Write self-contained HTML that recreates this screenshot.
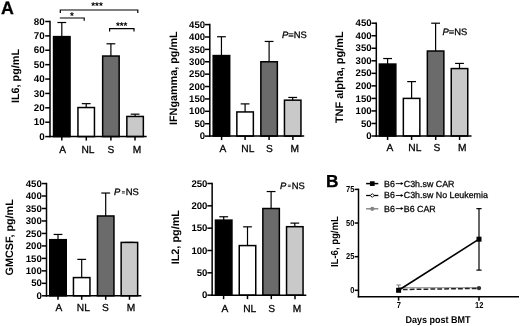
<!DOCTYPE html>
<html><head><meta charset="utf-8"><title>Figure</title>
<style>html,body{margin:0;padding:0;background:#fff;}svg{display:block;will-change:transform;font-family:'Liberation Sans', sans-serif;fill:#000;text-rendering:geometricPrecision;}</style>
</head><body>
<svg width="520" height="326" viewBox="0 0 520 326">
<rect x="0" y="0" width="520" height="326" fill="#fff"/>
<text x="1.0" y="13.8" font-size="17.8" font-weight="bold" text-anchor="start" stroke="#000" stroke-width="0.3">A</text>
<text x="325.9" y="187.1" font-size="17.3" font-weight="bold" text-anchor="start" stroke="#000" stroke-width="0.3">B</text>
<line x1="61.8" y1="36.61" x2="61.8" y2="22.51" stroke="#000" stroke-width="1.2" />
<line x1="57.4" y1="22.51" x2="66.2" y2="22.51" stroke="#000" stroke-width="1.2" />
<rect x="53.55" y="36.61" width="16.5" height="99.99" fill="#000" stroke="#000" stroke-width="1.5"/>
<line x1="86.2" y1="107.54" x2="86.2" y2="103.65" stroke="#000" stroke-width="1.2" />
<line x1="81.8" y1="103.65" x2="90.60000000000001" y2="103.65" stroke="#000" stroke-width="1.2" />
<rect x="77.95" y="107.54" width="16.5" height="29.06" fill="#fff" stroke="#000" stroke-width="1.5"/>
<line x1="110.9" y1="56.03" x2="110.9" y2="43.8" stroke="#000" stroke-width="1.2" />
<line x1="106.5" y1="43.8" x2="115.30000000000001" y2="43.8" stroke="#000" stroke-width="1.2" />
<rect x="102.65" y="56.03" width="16.5" height="80.57" fill="#6b6b6b" stroke="#000" stroke-width="1.5"/>
<line x1="135.1" y1="116.46" x2="135.1" y2="114.16" stroke="#000" stroke-width="1.2" />
<line x1="130.7" y1="114.16" x2="139.5" y2="114.16" stroke="#000" stroke-width="1.2" />
<rect x="126.85" y="116.46" width="16.5" height="20.14" fill="#c9c9c9" stroke="#000" stroke-width="1.5"/>
<line x1="50" y1="20.75" x2="50" y2="137.35" stroke="#000" stroke-width="1.5" />
<line x1="49.25" y1="136.6" x2="146.7" y2="136.6" stroke="#000" stroke-width="1.5" />
<line x1="45.2" y1="136.6" x2="50" y2="136.6" stroke="#000" stroke-width="1.5" />
<text transform="translate(44.7,139.75) scale(1.0,1)" font-size="9.8" font-weight="bold" text-anchor="end">0</text>
<line x1="45.2" y1="122.21" x2="50" y2="122.21" stroke="#000" stroke-width="1.5" />
<text transform="translate(44.7,125.36) scale(1.0,1)" font-size="9.8" font-weight="bold" text-anchor="end">10</text>
<line x1="45.2" y1="107.82" x2="50" y2="107.82" stroke="#000" stroke-width="1.5" />
<text transform="translate(44.7,110.97) scale(1.0,1)" font-size="9.8" font-weight="bold" text-anchor="end">20</text>
<line x1="45.2" y1="93.44" x2="50" y2="93.44" stroke="#000" stroke-width="1.5" />
<text transform="translate(44.7,96.59) scale(1.0,1)" font-size="9.8" font-weight="bold" text-anchor="end">30</text>
<line x1="45.2" y1="79.05" x2="50" y2="79.05" stroke="#000" stroke-width="1.5" />
<text transform="translate(44.7,82.2) scale(1.0,1)" font-size="9.8" font-weight="bold" text-anchor="end">40</text>
<line x1="45.2" y1="64.66" x2="50" y2="64.66" stroke="#000" stroke-width="1.5" />
<text transform="translate(44.7,67.81) scale(1.0,1)" font-size="9.8" font-weight="bold" text-anchor="end">50</text>
<line x1="45.2" y1="50.27" x2="50" y2="50.27" stroke="#000" stroke-width="1.5" />
<text transform="translate(44.7,53.42) scale(1.0,1)" font-size="9.8" font-weight="bold" text-anchor="end">60</text>
<line x1="45.2" y1="35.89" x2="50" y2="35.89" stroke="#000" stroke-width="1.5" />
<text transform="translate(44.7,39.04) scale(1.0,1)" font-size="9.8" font-weight="bold" text-anchor="end">70</text>
<line x1="45.2" y1="21.5" x2="50" y2="21.5" stroke="#000" stroke-width="1.5" />
<text transform="translate(44.7,24.65) scale(1.0,1)" font-size="9.8" font-weight="bold" text-anchor="end">80</text>
<line x1="61.8" y1="136.6" x2="61.8" y2="140.6" stroke="#000" stroke-width="1.5" />
<text x="62.6" y="153.1" font-size="10.2" font-weight="normal" text-anchor="middle" stroke="#000" stroke-width="0.28">A</text>
<line x1="86.3" y1="136.6" x2="86.3" y2="140.6" stroke="#000" stroke-width="1.5" />
<text x="88.0" y="153.1" font-size="10.2" font-weight="normal" text-anchor="middle" stroke="#000" stroke-width="0.28">NL</text>
<line x1="110.9" y1="136.6" x2="110.9" y2="140.6" stroke="#000" stroke-width="1.5" />
<text x="111.0" y="153.1" font-size="10.2" font-weight="normal" text-anchor="middle" stroke="#000" stroke-width="0.28">S</text>
<line x1="135.0" y1="136.6" x2="135.0" y2="140.6" stroke="#000" stroke-width="1.5" />
<text x="136.9" y="153.1" font-size="10.2" font-weight="normal" text-anchor="middle" stroke="#000" stroke-width="0.28">M</text>
<text transform="translate(19.3,76) rotate(-90)" font-size="10.8" font-weight="bold" text-anchor="middle">IL6, pg/mL</text>
<path d="M60.3,13 V10 H137.8 V13" fill="none" stroke="#000" stroke-width="1.2"/>
<path d="M59.8,18 H84.2 V20.7" fill="none" stroke="#000" stroke-width="1.2"/>
<path d="M109.6,31.400000000000002 V28.6 H134 V31.400000000000002" fill="none" stroke="#000" stroke-width="1.2"/>
<text x="97.0" y="8.9" font-size="9.8" font-weight="bold" text-anchor="middle" >***</text>
<text x="71.8" y="18.7" font-size="9.8" font-weight="bold" text-anchor="middle" >*</text>
<text x="121.7" y="28.8" font-size="9.8" font-weight="bold" text-anchor="middle" >***</text>
<line x1="221.45" y1="55.57" x2="221.45" y2="36.74" stroke="#000" stroke-width="1.2" />
<line x1="217.04999999999998" y1="36.74" x2="225.85" y2="36.74" stroke="#000" stroke-width="1.2" />
<rect x="213.2" y="55.57" width="16.5" height="80.53" fill="#000" stroke="#000" stroke-width="1.5"/>
<line x1="245.1" y1="111.94" x2="245.1" y2="103.89" stroke="#000" stroke-width="1.2" />
<line x1="240.7" y1="103.89" x2="249.5" y2="103.89" stroke="#000" stroke-width="1.2" />
<rect x="236.85" y="111.94" width="16.5" height="24.16" fill="#fff" stroke="#000" stroke-width="1.5"/>
<line x1="269.1" y1="61.77" x2="269.1" y2="41.45" stroke="#000" stroke-width="1.2" />
<line x1="264.70000000000005" y1="41.45" x2="273.5" y2="41.45" stroke="#000" stroke-width="1.2" />
<rect x="260.85" y="61.77" width="16.5" height="74.33" fill="#6b6b6b" stroke="#000" stroke-width="1.5"/>
<line x1="292.7" y1="100.17" x2="292.7" y2="97.45" stroke="#000" stroke-width="1.2" />
<line x1="288.3" y1="97.45" x2="297.09999999999997" y2="97.45" stroke="#000" stroke-width="1.2" />
<rect x="284.45" y="100.17" width="16.5" height="35.93" fill="#c9c9c9" stroke="#000" stroke-width="1.5"/>
<line x1="209.8" y1="23.85" x2="209.8" y2="136.85" stroke="#000" stroke-width="1.5" />
<line x1="209.05" y1="136.1" x2="304.2" y2="136.1" stroke="#000" stroke-width="1.5" />
<line x1="205.0" y1="136.1" x2="209.8" y2="136.1" stroke="#000" stroke-width="1.5" />
<text transform="translate(205.1,139.25) scale(1.0,1)" font-size="9.6" font-weight="bold" text-anchor="end">0</text>
<line x1="205.0" y1="123.71" x2="209.8" y2="123.71" stroke="#000" stroke-width="1.5" />
<text transform="translate(205.1,126.86) scale(1.0,1)" font-size="9.6" font-weight="bold" text-anchor="end">50</text>
<line x1="205.0" y1="111.32" x2="209.8" y2="111.32" stroke="#000" stroke-width="1.5" />
<text transform="translate(205.1,114.47) scale(1.0,1)" font-size="9.6" font-weight="bold" text-anchor="end">100</text>
<line x1="205.0" y1="98.93" x2="209.8" y2="98.93" stroke="#000" stroke-width="1.5" />
<text transform="translate(205.1,102.08) scale(1.0,1)" font-size="9.6" font-weight="bold" text-anchor="end">150</text>
<line x1="205.0" y1="86.54" x2="209.8" y2="86.54" stroke="#000" stroke-width="1.5" />
<text transform="translate(205.1,89.69) scale(1.0,1)" font-size="9.6" font-weight="bold" text-anchor="end">200</text>
<line x1="205.0" y1="74.16" x2="209.8" y2="74.16" stroke="#000" stroke-width="1.5" />
<text transform="translate(205.1,77.31) scale(1.0,1)" font-size="9.6" font-weight="bold" text-anchor="end">250</text>
<line x1="205.0" y1="61.77" x2="209.8" y2="61.77" stroke="#000" stroke-width="1.5" />
<text transform="translate(205.1,64.92) scale(1.0,1)" font-size="9.6" font-weight="bold" text-anchor="end">300</text>
<line x1="205.0" y1="49.38" x2="209.8" y2="49.38" stroke="#000" stroke-width="1.5" />
<text transform="translate(205.1,52.53) scale(1.0,1)" font-size="9.6" font-weight="bold" text-anchor="end">350</text>
<line x1="205.0" y1="36.99" x2="209.8" y2="36.99" stroke="#000" stroke-width="1.5" />
<text transform="translate(205.1,40.14) scale(1.0,1)" font-size="9.6" font-weight="bold" text-anchor="end">400</text>
<line x1="205.0" y1="24.6" x2="209.8" y2="24.6" stroke="#000" stroke-width="1.5" />
<text transform="translate(205.1,27.75) scale(1.0,1)" font-size="9.6" font-weight="bold" text-anchor="end">450</text>
<line x1="221.6" y1="136.1" x2="221.6" y2="140.1" stroke="#000" stroke-width="1.5" />
<text x="223.0" y="152.0" font-size="10.2" font-weight="normal" text-anchor="middle" stroke="#000" stroke-width="0.28">A</text>
<line x1="245.1" y1="136.1" x2="245.1" y2="140.1" stroke="#000" stroke-width="1.5" />
<text x="247.8" y="152.0" font-size="10.2" font-weight="normal" text-anchor="middle" stroke="#000" stroke-width="0.28">NL</text>
<line x1="269.1" y1="136.1" x2="269.1" y2="140.1" stroke="#000" stroke-width="1.5" />
<text x="269.4" y="152.0" font-size="10.2" font-weight="normal" text-anchor="middle" stroke="#000" stroke-width="0.28">S</text>
<line x1="292.9" y1="136.1" x2="292.9" y2="140.1" stroke="#000" stroke-width="1.5" />
<text x="294.7" y="152.0" font-size="10.2" font-weight="normal" text-anchor="middle" stroke="#000" stroke-width="0.28">M</text>
<text transform="translate(177.1,78.2) rotate(-90)" font-size="10.8" font-weight="bold" text-anchor="middle">IFNgamma, pg/mL</text>
<text x="282.0" y="38.3" font-size="9.4" font-weight="normal" text-anchor="start" stroke="#000" stroke-width="0.28"><tspan font-style="italic">P</tspan>=NS</text>
<line x1="387.6" y1="64.06" x2="387.6" y2="58.54" stroke="#000" stroke-width="1.2" />
<line x1="383.20000000000005" y1="58.54" x2="392.0" y2="58.54" stroke="#000" stroke-width="1.2" />
<rect x="379.35" y="64.06" width="16.5" height="71.94" fill="#000" stroke="#000" stroke-width="1.5"/>
<line x1="411.6" y1="98.4" x2="411.6" y2="81.61" stroke="#000" stroke-width="1.2" />
<line x1="407.20000000000005" y1="81.61" x2="416.0" y2="81.61" stroke="#000" stroke-width="1.2" />
<rect x="403.35" y="98.4" width="16.5" height="37.6" fill="#fff" stroke="#000" stroke-width="1.5"/>
<line x1="435.6" y1="51.02" x2="435.6" y2="23.2" stroke="#000" stroke-width="1.2" />
<line x1="431.20000000000005" y1="23.2" x2="440.0" y2="23.2" stroke="#000" stroke-width="1.2" />
<rect x="427.35" y="51.02" width="16.5" height="84.98" fill="#6b6b6b" stroke="#000" stroke-width="1.5"/>
<line x1="459.5" y1="68.57" x2="459.5" y2="63.43" stroke="#000" stroke-width="1.2" />
<line x1="455.1" y1="63.43" x2="463.9" y2="63.43" stroke="#000" stroke-width="1.2" />
<rect x="451.25" y="68.57" width="16.5" height="67.43" fill="#c9c9c9" stroke="#000" stroke-width="1.5"/>
<line x1="376.3" y1="22.45" x2="376.3" y2="136.75" stroke="#000" stroke-width="1.5" />
<line x1="375.55" y1="136.0" x2="471.5" y2="136.0" stroke="#000" stroke-width="1.5" />
<line x1="371.5" y1="136.0" x2="376.3" y2="136.0" stroke="#000" stroke-width="1.5" />
<text transform="translate(371.6,139.15) scale(1.0,1)" font-size="9.6" font-weight="bold" text-anchor="end">0</text>
<line x1="371.5" y1="123.47" x2="376.3" y2="123.47" stroke="#000" stroke-width="1.5" />
<text transform="translate(371.6,126.62) scale(1.0,1)" font-size="9.6" font-weight="bold" text-anchor="end">50</text>
<line x1="371.5" y1="110.93" x2="376.3" y2="110.93" stroke="#000" stroke-width="1.5" />
<text transform="translate(371.6,114.08) scale(1.0,1)" font-size="9.6" font-weight="bold" text-anchor="end">100</text>
<line x1="371.5" y1="98.4" x2="376.3" y2="98.4" stroke="#000" stroke-width="1.5" />
<text transform="translate(371.6,101.55) scale(1.0,1)" font-size="9.6" font-weight="bold" text-anchor="end">150</text>
<line x1="371.5" y1="85.87" x2="376.3" y2="85.87" stroke="#000" stroke-width="1.5" />
<text transform="translate(371.6,89.02) scale(1.0,1)" font-size="9.6" font-weight="bold" text-anchor="end">200</text>
<line x1="371.5" y1="73.33" x2="376.3" y2="73.33" stroke="#000" stroke-width="1.5" />
<text transform="translate(371.6,76.48) scale(1.0,1)" font-size="9.6" font-weight="bold" text-anchor="end">250</text>
<line x1="371.5" y1="60.8" x2="376.3" y2="60.8" stroke="#000" stroke-width="1.5" />
<text transform="translate(371.6,63.95) scale(1.0,1)" font-size="9.6" font-weight="bold" text-anchor="end">300</text>
<line x1="371.5" y1="48.27" x2="376.3" y2="48.27" stroke="#000" stroke-width="1.5" />
<text transform="translate(371.6,51.42) scale(1.0,1)" font-size="9.6" font-weight="bold" text-anchor="end">350</text>
<line x1="371.5" y1="35.73" x2="376.3" y2="35.73" stroke="#000" stroke-width="1.5" />
<text transform="translate(371.6,38.88) scale(1.0,1)" font-size="9.6" font-weight="bold" text-anchor="end">400</text>
<line x1="371.5" y1="23.2" x2="376.3" y2="23.2" stroke="#000" stroke-width="1.5" />
<text transform="translate(371.6,26.35) scale(1.0,1)" font-size="9.6" font-weight="bold" text-anchor="end">450</text>
<line x1="387.6" y1="136.0" x2="387.6" y2="140.0" stroke="#000" stroke-width="1.5" />
<text x="389.9" y="150.5" font-size="10.2" font-weight="normal" text-anchor="middle" stroke="#000" stroke-width="0.28">A</text>
<line x1="411.6" y1="136.0" x2="411.6" y2="140.0" stroke="#000" stroke-width="1.5" />
<text x="414.8" y="150.5" font-size="10.2" font-weight="normal" text-anchor="middle" stroke="#000" stroke-width="0.28">NL</text>
<line x1="435.7" y1="136.0" x2="435.7" y2="140.0" stroke="#000" stroke-width="1.5" />
<text x="436.8" y="150.5" font-size="10.2" font-weight="normal" text-anchor="middle" stroke="#000" stroke-width="0.28">S</text>
<line x1="459.6" y1="136.0" x2="459.6" y2="140.0" stroke="#000" stroke-width="1.5" />
<text x="462.3" y="150.5" font-size="10.2" font-weight="normal" text-anchor="middle" stroke="#000" stroke-width="0.28">M</text>
<text transform="translate(342.9,77.2) rotate(-90)" font-size="10.95" font-weight="bold" text-anchor="middle">TNF alpha, pg/mL</text>
<text x="442.55" y="34.9" font-size="9.4" font-weight="normal" text-anchor="start" stroke="#000" stroke-width="0.28"><tspan font-style="italic">P</tspan>=NS</text>
<line x1="58" y1="239.68" x2="58" y2="234.44" stroke="#000" stroke-width="1.2" />
<line x1="53.6" y1="234.44" x2="62.4" y2="234.44" stroke="#000" stroke-width="1.2" />
<rect x="49.75" y="239.68" width="16.5" height="56.12" fill="#000" stroke="#000" stroke-width="1.5"/>
<line x1="81.7" y1="277.59" x2="81.7" y2="259.38" stroke="#000" stroke-width="1.2" />
<line x1="77.3" y1="259.38" x2="86.10000000000001" y2="259.38" stroke="#000" stroke-width="1.2" />
<rect x="73.45" y="277.59" width="16.5" height="18.21" fill="#fff" stroke="#000" stroke-width="1.5"/>
<line x1="105.7" y1="215.98" x2="105.7" y2="193.03" stroke="#000" stroke-width="1.2" />
<line x1="101.3" y1="193.03" x2="110.10000000000001" y2="193.03" stroke="#000" stroke-width="1.2" />
<rect x="97.45" y="215.98" width="16.5" height="79.82" fill="#6b6b6b" stroke="#000" stroke-width="1.5"/>
<line x1="129.4" y1="242.42" x2="129.4" y2="242.42" stroke="#000" stroke-width="1.2" />
<line x1="125.0" y1="242.42" x2="133.8" y2="242.42" stroke="#000" stroke-width="1.2" />
<rect x="121.15" y="242.42" width="16.5" height="53.38" fill="#c9c9c9" stroke="#000" stroke-width="1.5"/>
<line x1="46.5" y1="182.8" x2="46.5" y2="296.55" stroke="#000" stroke-width="1.5" />
<line x1="45.75" y1="295.8" x2="141.3" y2="295.8" stroke="#000" stroke-width="1.5" />
<line x1="41.7" y1="295.8" x2="46.5" y2="295.8" stroke="#000" stroke-width="1.5" />
<text transform="translate(41.8,298.95) scale(1.0,1)" font-size="9.6" font-weight="bold" text-anchor="end">0</text>
<line x1="41.7" y1="283.33" x2="46.5" y2="283.33" stroke="#000" stroke-width="1.5" />
<text transform="translate(41.8,286.48) scale(1.0,1)" font-size="9.6" font-weight="bold" text-anchor="end">50</text>
<line x1="41.7" y1="270.86" x2="46.5" y2="270.86" stroke="#000" stroke-width="1.5" />
<text transform="translate(41.8,274.01) scale(1.0,1)" font-size="9.6" font-weight="bold" text-anchor="end">100</text>
<line x1="41.7" y1="258.38" x2="46.5" y2="258.38" stroke="#000" stroke-width="1.5" />
<text transform="translate(41.8,261.53) scale(1.0,1)" font-size="9.6" font-weight="bold" text-anchor="end">150</text>
<line x1="41.7" y1="245.91" x2="46.5" y2="245.91" stroke="#000" stroke-width="1.5" />
<text transform="translate(41.8,249.06) scale(1.0,1)" font-size="9.6" font-weight="bold" text-anchor="end">200</text>
<line x1="41.7" y1="233.44" x2="46.5" y2="233.44" stroke="#000" stroke-width="1.5" />
<text transform="translate(41.8,236.59) scale(1.0,1)" font-size="9.6" font-weight="bold" text-anchor="end">250</text>
<line x1="41.7" y1="220.97" x2="46.5" y2="220.97" stroke="#000" stroke-width="1.5" />
<text transform="translate(41.8,224.12) scale(1.0,1)" font-size="9.6" font-weight="bold" text-anchor="end">300</text>
<line x1="41.7" y1="208.49" x2="46.5" y2="208.49" stroke="#000" stroke-width="1.5" />
<text transform="translate(41.8,211.64) scale(1.0,1)" font-size="9.6" font-weight="bold" text-anchor="end">350</text>
<line x1="41.7" y1="196.02" x2="46.5" y2="196.02" stroke="#000" stroke-width="1.5" />
<text transform="translate(41.8,199.17) scale(1.0,1)" font-size="9.6" font-weight="bold" text-anchor="end">400</text>
<line x1="41.7" y1="183.55" x2="46.5" y2="183.55" stroke="#000" stroke-width="1.5" />
<text transform="translate(41.8,186.7) scale(1.0,1)" font-size="9.6" font-weight="bold" text-anchor="end">450</text>
<line x1="58" y1="295.8" x2="58" y2="299.8" stroke="#000" stroke-width="1.5" />
<text x="59.0" y="310.7" font-size="10.2" font-weight="normal" text-anchor="middle" stroke="#000" stroke-width="0.28">A</text>
<line x1="81.7" y1="295.8" x2="81.7" y2="299.8" stroke="#000" stroke-width="1.5" />
<text x="83.3" y="310.7" font-size="10.2" font-weight="normal" text-anchor="middle" stroke="#000" stroke-width="0.28">NL</text>
<line x1="105.7" y1="295.8" x2="105.7" y2="299.8" stroke="#000" stroke-width="1.5" />
<text x="105.4" y="310.7" font-size="10.2" font-weight="normal" text-anchor="middle" stroke="#000" stroke-width="0.28">S</text>
<line x1="129.5" y1="295.8" x2="129.5" y2="299.8" stroke="#000" stroke-width="1.5" />
<text x="131" y="310.7" font-size="10.2" font-weight="normal" text-anchor="middle" stroke="#000" stroke-width="0.28">M</text>
<text transform="translate(13.2,237.3) rotate(-90)" font-size="10.8" font-weight="bold" text-anchor="middle">GMCSF, pg/mL</text>
<text x="114.0" y="195.1" font-size="9.4" font-style="italic" stroke="#000" stroke-width="0.28">P</text>
<text x="125.76" y="195.1" font-size="9.4" stroke="#000" stroke-width="0.28">NS</text>
<line x1="121.9" y1="191.65" x2="124.8" y2="191.65" stroke="#222" stroke-width="0.85" />
<line x1="121.9" y1="193.05" x2="124.8" y2="193.05" stroke="#222" stroke-width="0.85" />
<line x1="223.7" y1="220.12" x2="223.7" y2="216.77" stroke="#000" stroke-width="1.2" />
<line x1="219.29999999999998" y1="216.77" x2="228.1" y2="216.77" stroke="#000" stroke-width="1.2" />
<rect x="215.45" y="220.12" width="16.5" height="75.03" fill="#000" stroke="#000" stroke-width="1.5"/>
<line x1="247.5" y1="245.58" x2="247.5" y2="226.82" stroke="#000" stroke-width="1.2" />
<line x1="243.1" y1="226.82" x2="251.9" y2="226.82" stroke="#000" stroke-width="1.2" />
<rect x="239.25" y="245.58" width="16.5" height="49.57" fill="#fff" stroke="#000" stroke-width="1.5"/>
<line x1="271.1" y1="208.51" x2="271.1" y2="191.54" stroke="#000" stroke-width="1.2" />
<line x1="266.70000000000005" y1="191.54" x2="275.5" y2="191.54" stroke="#000" stroke-width="1.2" />
<rect x="262.85" y="208.51" width="16.5" height="86.64" fill="#6b6b6b" stroke="#000" stroke-width="1.5"/>
<line x1="294.8" y1="226.69" x2="294.8" y2="223.11" stroke="#000" stroke-width="1.2" />
<line x1="290.40000000000003" y1="223.11" x2="299.2" y2="223.11" stroke="#000" stroke-width="1.2" />
<rect x="286.55" y="226.69" width="16.5" height="68.46" fill="#c9c9c9" stroke="#000" stroke-width="1.5"/>
<line x1="212.15" y1="182.75" x2="212.15" y2="295.9" stroke="#000" stroke-width="1.5" />
<line x1="211.4" y1="295.15" x2="306.3" y2="295.15" stroke="#000" stroke-width="1.5" />
<line x1="207.35" y1="295.15" x2="212.15" y2="295.15" stroke="#000" stroke-width="1.5" />
<text transform="translate(207.45,298.3) scale(1.0,1)" font-size="9.6" font-weight="bold" text-anchor="end">0</text>
<line x1="207.35" y1="272.82" x2="212.15" y2="272.82" stroke="#000" stroke-width="1.5" />
<text transform="translate(207.45,275.97) scale(1.0,1)" font-size="9.6" font-weight="bold" text-anchor="end">50</text>
<line x1="207.35" y1="250.49" x2="212.15" y2="250.49" stroke="#000" stroke-width="1.5" />
<text transform="translate(207.45,253.64) scale(1.0,1)" font-size="9.6" font-weight="bold" text-anchor="end">100</text>
<line x1="207.35" y1="228.16" x2="212.15" y2="228.16" stroke="#000" stroke-width="1.5" />
<text transform="translate(207.45,231.31) scale(1.0,1)" font-size="9.6" font-weight="bold" text-anchor="end">150</text>
<line x1="207.35" y1="205.83" x2="212.15" y2="205.83" stroke="#000" stroke-width="1.5" />
<text transform="translate(207.45,208.98) scale(1.0,1)" font-size="9.6" font-weight="bold" text-anchor="end">200</text>
<line x1="207.35" y1="183.5" x2="212.15" y2="183.5" stroke="#000" stroke-width="1.5" />
<text transform="translate(207.45,186.65) scale(1.0,1)" font-size="9.6" font-weight="bold" text-anchor="end">250</text>
<line x1="223.6" y1="295.15" x2="223.6" y2="299.15" stroke="#000" stroke-width="1.5" />
<text x="224.9" y="311.6" font-size="10.2" font-weight="normal" text-anchor="middle" stroke="#000" stroke-width="0.28">A</text>
<line x1="247.5" y1="295.15" x2="247.5" y2="299.15" stroke="#000" stroke-width="1.5" />
<text x="249.7" y="311.6" font-size="10.2" font-weight="normal" text-anchor="middle" stroke="#000" stroke-width="0.28">NL</text>
<line x1="271.3" y1="295.15" x2="271.3" y2="299.15" stroke="#000" stroke-width="1.5" />
<text x="271.7" y="311.6" font-size="10.2" font-weight="normal" text-anchor="middle" stroke="#000" stroke-width="0.28">S</text>
<line x1="295.0" y1="295.15" x2="295.0" y2="299.15" stroke="#000" stroke-width="1.5" />
<text x="297.1" y="311.6" font-size="10.2" font-weight="normal" text-anchor="middle" stroke="#000" stroke-width="0.28">M</text>
<text transform="translate(179.2,237.2) rotate(-90)" font-size="10.85" font-weight="bold" text-anchor="middle">IL2, pg/mL</text>
<text x="280.0" y="188.6" font-size="9.4" font-style="italic" stroke="#000" stroke-width="0.28">P</text>
<text x="291.76" y="188.6" font-size="9.4" stroke="#000" stroke-width="0.28">NS</text>
<line x1="287.9" y1="185.15" x2="290.8" y2="185.15" stroke="#222" stroke-width="0.85" />
<line x1="287.9" y1="186.55" x2="290.8" y2="186.55" stroke="#222" stroke-width="0.85" />
<line x1="358.5" y1="188.65" x2="358.5" y2="297.4" stroke="#000" stroke-width="1.5" />
<line x1="357.75" y1="296.65" x2="519" y2="296.65" stroke="#000" stroke-width="1.5" />
<line x1="354.7" y1="290.3" x2="358.5" y2="290.3" stroke="#000" stroke-width="1.5" />
<text transform="translate(354.3,293.05) scale(0.87,1)" font-size="8.6" font-weight="bold" text-anchor="end">0</text>
<line x1="354.7" y1="256.67" x2="358.5" y2="256.67" stroke="#000" stroke-width="1.5" />
<text transform="translate(354.3,259.42) scale(0.87,1)" font-size="8.6" font-weight="bold" text-anchor="end">25</text>
<line x1="354.7" y1="223.03" x2="358.5" y2="223.03" stroke="#000" stroke-width="1.5" />
<text transform="translate(354.3,225.78) scale(0.87,1)" font-size="8.6" font-weight="bold" text-anchor="end">50</text>
<line x1="354.7" y1="189.4" x2="358.5" y2="189.4" stroke="#000" stroke-width="1.5" />
<text transform="translate(354.3,192.15) scale(0.87,1)" font-size="8.6" font-weight="bold" text-anchor="end">75</text>
<line x1="398.6" y1="296.65" x2="398.6" y2="300.65" stroke="#000" stroke-width="1.5" />
<text transform="translate(398.8,308.1) scale(0.87,1)" font-size="8.6" font-weight="bold" text-anchor="middle">7</text>
<line x1="479.0" y1="296.65" x2="479.0" y2="300.65" stroke="#000" stroke-width="1.5" />
<text transform="translate(479.2,308.1) scale(0.87,1)" font-size="8.6" font-weight="bold" text-anchor="middle">12</text>
<text transform="translate(438.0,322.5) scale(0.92,1)" font-size="9.8" font-weight="bold" text-anchor="middle">Days post BMT</text>
<text transform="translate(337.55,241.6) rotate(-90) scale(0.936,1)" font-size="10.2" font-weight="bold" text-anchor="middle">IL-6, pg/mL</text>
<line x1="398.6" y1="287.7" x2="479.0" y2="287.7" stroke="#828282" stroke-width="1.1" />
<line x1="398.6" y1="288.28" x2="398.6" y2="285.0" stroke="#828282" stroke-width="1.1" />
<line x1="396.40000000000003" y1="285.0" x2="400.8" y2="285.0" stroke="#828282" stroke-width="1.1" />
<line x1="402.8" y1="289.5" x2="479.0" y2="288.4" stroke="#222" stroke-width="1.5" stroke-dasharray="4.8 2.1"/>
<line x1="479.0" y1="208.91" x2="479.0" y2="270.12" stroke="#000" stroke-width="1.2" />
<line x1="476.4" y1="208.64" x2="481.6" y2="208.64" stroke="#000" stroke-width="1.2" />
<line x1="476.4" y1="270.12" x2="481.6" y2="270.12" stroke="#000" stroke-width="1.2" />
<line x1="398.6" y1="290.3" x2="479.0" y2="239.18" stroke="#000" stroke-width="1.6" />
<rect x="476.5" y="236.68" width="5" height="5" fill="#000"/>
<rect x="396.1" y="287.8" width="5" height="5" fill="#000"/>
<circle cx="479.0" cy="288.1" r="2.2" fill="#333"/>
<line x1="366.1" y1="183.6" x2="378.3" y2="183.6" stroke="#000" stroke-width="1.5" />
<rect x="369.95" y="181.25" width="4.7" height="4.7" fill="#000"/>
<line x1="366.1" y1="195.5" x2="378.3" y2="195.5" stroke="#000" stroke-width="1.3" />
<path d="M370.40000000000003,195.5 L372.3,193.6 L374.2,195.5 L372.3,197.4 Z" fill="#fff" stroke="#000" stroke-width="0.9"/>
<line x1="366.1" y1="208.8" x2="378.3" y2="208.8" stroke="#828282" stroke-width="1.4" />
<circle cx="372.3" cy="208.8" r="2.1" fill="#828282"/>
<text x="384.1" y="186.5" font-size="8.85" stroke="#000" stroke-width="0.25">B6</text>
<path d="M395.8,183.6 H402" fill="none" stroke="#000" stroke-width="0.9"/>
<path d="M403.5,183.6 l-2.7,-1.5 v3 z" fill="#000"/>
<text x="403.8" y="186.5" font-size="8.85" stroke="#000" stroke-width="0.25">C3h.sw CAR</text>
<text x="384.1" y="198.4" font-size="8.85" stroke="#000" stroke-width="0.25">B6</text>
<path d="M395.8,195.5 H402" fill="none" stroke="#000" stroke-width="0.9"/>
<path d="M403.5,195.5 l-2.7,-1.5 v3 z" fill="#000"/>
<text x="403.8" y="198.4" font-size="8.85" stroke="#000" stroke-width="0.25">C3h.sw No Leukemia</text>
<text x="384.1" y="211.5" font-size="8.85" stroke="#000" stroke-width="0.25">B6</text>
<path d="M395.8,208.6 H402" fill="none" stroke="#000" stroke-width="0.9"/>
<path d="M403.5,208.6 l-2.7,-1.5 v3 z" fill="#000"/>
<text x="403.8" y="211.5" font-size="8.85" stroke="#000" stroke-width="0.25">B6 CAR</text>
</svg>
</body></html>
